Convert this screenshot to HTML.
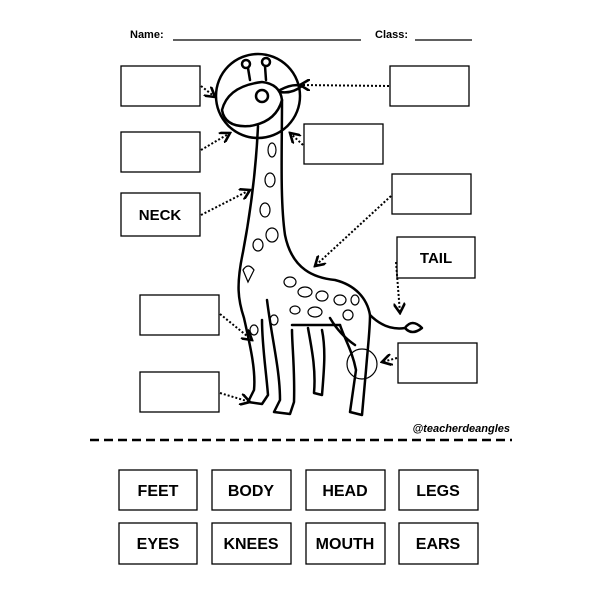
<!DOCTYPE html>
<html><head><style>
body{margin:0;background:#fff}
svg{display:block}
text{font-family:"Liberation Sans",sans-serif;font-weight:bold}
</style></head><body>
<svg width="600" height="600" viewBox="0 0 600 600">
<defs><marker id="a" markerWidth="6" markerHeight="6" refX="5" refY="3" orient="auto"><path d="M0 0 L5 3 L0 6" fill="none" stroke="#000" stroke-width="1.3"/></marker></defs>
<rect width="600" height="600" fill="#fff"/>
<text x="130" y="38" font-size="11">Name:</text>
<line x1="173" y1="40" x2="361" y2="40" stroke="#000" stroke-width="1.2"/>
<text x="375" y="38" font-size="11">Class:</text>
<line x1="415" y1="40" x2="472" y2="40" stroke="#000" stroke-width="1.2"/>
<g fill="none" stroke="#000" stroke-width="1.3">
<rect x="121" y="66" width="79" height="40"/>
<rect x="121" y="132" width="79" height="40"/>
<rect x="121" y="193" width="79" height="43"/>
<rect x="390" y="66" width="79" height="40"/>
<rect x="304" y="124" width="79" height="40"/>
<rect x="392" y="174" width="79" height="40"/>
<rect x="397" y="237" width="78" height="41"/>
<rect x="140" y="295" width="79" height="40"/>
<rect x="140" y="372" width="79" height="40"/>
<rect x="398" y="343" width="79" height="40"/>
</g>
<g font-size="15" text-anchor="middle">
<text x="160" y="220">NECK</text>
<text x="436" y="263">TAIL</text>
</g>
<g fill="none" stroke="#000" stroke-width="2" stroke-dasharray="2 2" marker-end="url(#a)">
<path d="M201 86 L215 97"/>
<path d="M201 150 L230 133"/>
<path d="M201 215 L250 190"/>
<path d="M389 86 L300 85"/>
<path d="M303 145 L290 133"/>
<path d="M391 196 L315 266"/>
<path d="M396 262 L400 313"/>
<path d="M220 314 L252 340"/>
<path d="M220 393 L250 402"/>
<path d="M397 358 L382 362"/>
</g>
<!-- giraffe -->
<g fill="none" stroke="#000" stroke-width="2.5" stroke-linejoin="round" stroke-linecap="round">
<circle cx="258" cy="96" r="42"/>
<path d="M248 68 L250 80 M265 66 L266 80"/>
<circle cx="246" cy="64" r="4"/><circle cx="266" cy="62" r="4"/>
<path d="M222 110 Q228 86 262 82 Q280 84 282 100 Q276 122 250 126 Q225 128 222 110Z"/>
<circle cx="262" cy="96" r="6"/>
<path d="M280 90 Q293 83 302 86 Q292 94 280 92"/>
<path d="M258 126 C256 170 250 215 243 252 C236 285 238 300 244 318 C250 345 256 370 254 390 L248 402 L262 404 L268 395 C266 370 262 345 262 320"/>
<path d="M282 100 C282 150 280 200 285 235 C292 270 315 278 335 280 C355 285 367 298 370 315 C380 325 392 330 405 328"/>
<path d="M405 328 Q412 318 422 328 Q412 336 405 328Z"/>
<path d="M267 300 C272 340 280 370 280 400 L274 412 L290 414 L294 402 C295 370 292 345 292 330"/>
<path d="M292 325 L340 325"/>
<path d="M308 328 C312 350 316 370 314 393 L322 395 C324 370 326 350 322 330"/>
<path d="M340 325 C345 340 352 350 356 370 L350 412 L362 415 L366 370 C368 345 370 330 370 315"/>
<path d="M330 318 Q340 335 355 345"/>
</g>
<g fill="none" stroke="#000" stroke-width="1.2">
<circle cx="362" cy="364" r="15"/>
<path d="M243 270 Q248 262 254 270 L248 282Z"/>
<ellipse cx="272" cy="150" rx="4" ry="7"/><ellipse cx="270" cy="180" rx="5" ry="7"/><ellipse cx="265" cy="210" rx="5" ry="7"/><ellipse cx="272" cy="235" rx="6" ry="7"/><ellipse cx="258" cy="245" rx="5" ry="6"/>
<ellipse cx="290" cy="282" rx="6" ry="5"/><ellipse cx="305" cy="292" rx="7" ry="5"/><ellipse cx="322" cy="296" rx="6" ry="5"/><ellipse cx="340" cy="300" rx="6" ry="5"/><ellipse cx="315" cy="312" rx="7" ry="5"/><ellipse cx="348" cy="315" rx="5" ry="5"/><ellipse cx="295" cy="310" rx="5" ry="4"/><ellipse cx="355" cy="300" rx="4" ry="5"/>
<ellipse cx="254" cy="330" rx="4" ry="5"/><ellipse cx="274" cy="320" rx="4" ry="5"/>
</g>
<text x="510" y="432" font-size="11" font-style="italic" text-anchor="end">@teacherdeangles</text>
<line x1="90" y1="440" x2="512" y2="440" stroke="#000" stroke-width="2.5" stroke-dasharray="9 5"/>
<g fill="none" stroke="#000" stroke-width="1.3">
<rect x="119" y="470" width="78" height="40"/><rect x="212" y="470" width="79" height="40"/><rect x="306" y="470" width="79" height="40"/><rect x="399" y="470" width="79" height="40"/>
<rect x="119" y="523" width="78" height="41"/><rect x="212" y="523" width="79" height="41"/><rect x="306" y="523" width="79" height="41"/><rect x="399" y="523" width="79" height="41"/>
</g>
<g font-size="16" text-anchor="middle">
<text x="158" y="496">FEET</text><text x="251" y="496">BODY</text><text x="345" y="496">HEAD</text><text x="438" y="496">LEGS</text>
<text x="158" y="549">EYES</text><text x="251" y="549">KNEES</text><text x="345" y="549">MOUTH</text><text x="438" y="549">EARS</text>
</g>
</svg>
</body></html>
